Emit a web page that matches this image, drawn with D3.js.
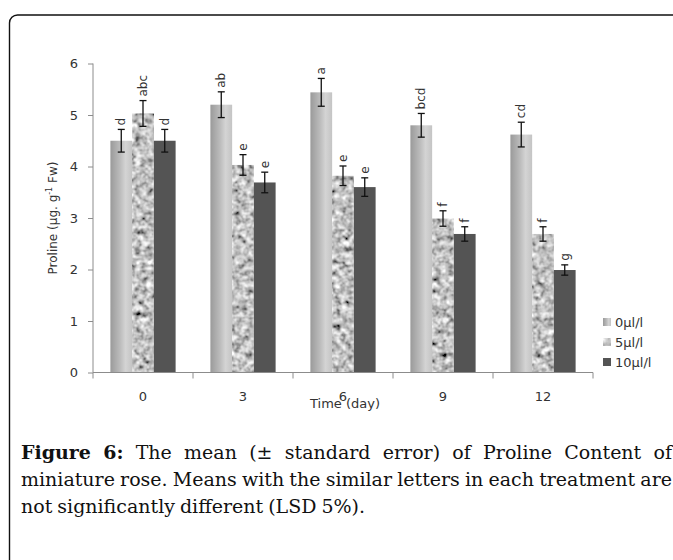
<!DOCTYPE html>
<meta charset="utf-8">
<style>
  body { margin: 0; background: #fff; }
  .tick text { font-family: "DejaVu Sans", Verdana, sans-serif; font-size: 13px; fill: #333; }
  .axis path, .axis line { stroke: #8c8c8c; }
  .cap { font-family: "DejaVu Serif", serif; font-size: 19px; fill: #111; }
</style>
<body>
<script src="https://d3js.org/d3.v7.min.js"></script>
<script>
  // data
  var days = ["0", "3", "6", "9", "12"];
  var series = ["0µl/l", "5µl/l", "10µl/l"];
  var mean0 = [4.50, 5.20, 5.44, 4.80, 4.62];
  var mean5 = [5.03, 4.03, 3.82, 2.99, 2.69];
  var mean10 = [4.50, 3.69, 3.60, 2.69, 1.99];
  var se0 = [0.22, 0.25, 0.27, 0.23, 0.24];
  var se5 = [0.25, 0.20, 0.19, 0.15, 0.14];
  var se10 = [0.22, 0.20, 0.18, 0.14, 0.10];
  var let0 = ["d", "ab", "a", "bcd", "cd"];
  var let5 = ["abc", "e", "e", "f", "f"];
  var let10 = ["d", "e", "e", "f", "g"];
  var yTicks = [0, 1, 2, 3, 4, 5, 6];

  var means = [mean0, mean5, mean10], ses = [se0, se5, se10], lets = [let0, let5, let10];
  var rows = [];
  days.forEach(function (d, i) {
    series.forEach(function (s, j) {
      rows.push({ day: d, s: s, j: j, v: means[j][i], se: ses[j][i], l: lets[j][i] });
    });
  });

  var W = 673, H = 560;
  var svg = d3.select("body").append("svg").attr("width", W).attr("height", H);

  var defs = svg.append("defs");
  // gradient for 0 µl/l bars
  var g = defs.append("linearGradient").attr("id", "grad0").attr("x1", "0").attr("x2", "1").attr("y1", "0").attr("y2", "0");
  g.append("stop").attr("offset", "0").attr("stop-color", "#9a9a9a");
  g.append("stop").attr("offset", "0.45").attr("stop-color", "#bcbcbc");
  g.append("stop").attr("offset", "0.7").attr("stop-color", "#d4d4d4");
  g.append("stop").attr("offset", "1").attr("stop-color", "#c4c4c4");

  // granite texture for 5 µl/l bars
  var f = defs.append("filter").attr("id", "granite").attr("x", "0").attr("y", "0").attr("width", "1").attr("height", "1");
  f.append("feTurbulence").attr("type", "fractalNoise").attr("baseFrequency", "0.17").attr("numOctaves", 2).attr("seed", 4).attr("result", "n");
  f.append("feColorMatrix").attr("in", "n").attr("type", "matrix")
    .attr("values", "0.33 0.33 0.33 0 0  0.33 0.33 0.33 0 0  0.33 0.33 0.33 0 0  0 0 0 0 1").attr("result", "gr");
  var ct = f.append("feComponentTransfer").attr("in", "gr").attr("result", "c");
  ["feFuncR", "feFuncG", "feFuncB"].forEach(function (fn) {
    ct.append(fn).attr("type", "linear").attr("slope", 2.3).attr("intercept", -0.6);
  });
  f.append("feComposite").attr("in", "c").attr("in2", "SourceGraphic").attr("operator", "in");

  var fills = ["url(#grad0)", "#aaaaaa", "#545454"];

  // frame
  svg.append("rect").attr("x", 9.5).attr("y", 15).attr("width", 700).attr("height", 600)
    .attr("rx", 8).attr("fill", "none").attr("stroke", "#111").attr("stroke-width", 1.4);

  var x0 = d3.scaleBand().domain(days).range([93, 593]).padding(0);
  var x1 = d3.scaleBand().domain(series).range([0, x0.bandwidth()]).paddingInner(0).paddingOuter(0.8);
  var y = d3.scaleLinear().domain([0, 6]).range([372.5, 63.5]);

  // y axis
  var ya = svg.append("g").attr("class", "axis").attr("transform", "translate(93,0)")
    .call(d3.axisLeft(y).tickValues(yTicks).tickFormat(d3.format("d")).tickSize(5).tickPadding(10));
  ya.select(".domain").attr("d", "M0," + y(6) + "V" + y(0));

  // bars
  svg.selectAll(".bar").data(rows).enter().append("rect")
    .attr("x", function (d) { return x0(d.day) + x1(d.s); })
    .attr("y", function (d) { return y(d.v); })
    .attr("width", x1.bandwidth())
    .attr("height", function (d) { return y(0) - y(d.v); })
    .attr("fill", function (d) { return fills[d.j]; })
    .attr("filter", function (d) { return d.j == 1 ? "url(#granite)" : null; });

  // x axis
  var xa = svg.append("g").attr("class", "axis").attr("transform", "translate(0," + y(0) + ")");
  xa.append("line").attr("x1", 93).attr("x2", 593).attr("stroke", "#8c8c8c");
  var bounds = days.map(function (d) { return x0(d); }).concat([593]);
  xa.selectAll(".xt").data(bounds).enter().append("line")
    .attr("x1", function (d) { return d; }).attr("x2", function (d) { return d; })
    .attr("y1", 0).attr("y2", 6).attr("stroke", "#8c8c8c");
  xa.selectAll(".xl").data(days).enter().append("text")
    .attr("x", function (d) { return x0(d) + x0.bandwidth() / 2; })
    .attr("y", 28).attr("text-anchor", "middle")
    .style("font-family", "DejaVu Sans, sans-serif").style("font-size", "13px").attr("fill", "#333")
    .text(function (d) { return d; });

  // error bars
  var eb = svg.selectAll(".eb").data(rows).enter().append("g")
    .attr("stroke", "#111").attr("stroke-width", 1.3);
  function cx(d) { return x0(d.day) + x1(d.s) + x1.bandwidth() / 2; }
  eb.append("line").attr("x1", cx).attr("x2", cx)
    .attr("y1", function (d) { return y(d.v + d.se); }).attr("y2", function (d) { return y(d.v - d.se); });
  eb.append("line").attr("x1", function (d) { return cx(d) - 3.5; }).attr("x2", function (d) { return cx(d) + 3.5; })
    .attr("y1", function (d) { return y(d.v + d.se); }).attr("y2", function (d) { return y(d.v + d.se); });
  eb.append("line").attr("x1", function (d) { return cx(d) - 3.5; }).attr("x2", function (d) { return cx(d) + 3.5; })
    .attr("y1", function (d) { return y(d.v - d.se); }).attr("y2", function (d) { return y(d.v - d.se); });

  // significance letters
  svg.selectAll(".lt").data(rows).enter().append("text")
    .attr("transform", function (d) { return "translate(" + (cx(d) + 4) + "," + (y(d.v + d.se) - 4) + ") rotate(-90)"; })
    .style("font-family", "DejaVu Sans, sans-serif").style("font-size", "12px").attr("fill", "#333")
    .text(function (d) { return d.l; });

  // axis titles
  var yl = svg.append("text").attr("transform", "translate(57,218) rotate(-90)").attr("text-anchor", "middle")
    .style("font-family", "DejaVu Sans, sans-serif").style("font-size", "12px").attr("fill", "#333");
  yl.append("tspan").text("Proline (µg. g");
  yl.append("tspan").attr("dy", -5).style("font-size", "8px").text("-1");
  yl.append("tspan").attr("dy", 5).text(" Fw)");
  svg.append("text").attr("x", 345).attr("y", 408).attr("text-anchor", "middle")
    .style("font-family", "DejaVu Sans, sans-serif").style("font-size", "13px").attr("fill", "#333")
    .text("Time (day)");

  // legend
  var lg = svg.selectAll(".lg").data(series).enter().append("g")
    .attr("transform", function (d, i) { return "translate(603," + (318 + i * 20) + ")"; });
  lg.append("rect").attr("width", 8).attr("height", 8)
    .attr("fill", function (d, i) { return fills[i]; })
    .attr("filter", function (d, i) { return i == 1 ? "url(#granite)" : null; });
  lg.append("text").attr("x", 12).attr("y", 9)
    .style("font-family", "DejaVu Sans, sans-serif").style("font-size", "13px").attr("fill", "#333")
    .text(function (d) { return d; });

  // caption, justified lines
  var capLines = [
    { words: ["Figure", "6:", "The", "mean", "(±", "standard", "error)", "of", "Proline", "Content", "of"], bold: 2, just: true, y: 459 },
    { words: ["miniature", "rose.", "Means", "with", "the", "similar", "letters", "in", "each", "treatment", "are"], bold: 0, just: true, y: 486 },
    { words: ["not", "significantly", "different", "(LSD", "5%)."], bold: 0, just: false, y: 513 }
  ];
  var L = 21, R = 672;
  capLines.forEach(function (ln) {
    var ts = ln.words.map(function (w, i) {
      return svg.append("text").attr("class", "cap").attr("y", ln.y)
        .style("font-weight", i < ln.bold ? "bold" : "normal").text(w);
    });
    var widths = ts.map(function (t) { return t.node().getComputedTextLength(); });
    var tot = d3.sum(widths);
    var gap = ln.just ? (R - L - tot) / (ts.length - 1) : 5;
    var xx = L;
    ts.forEach(function (t, i) { t.attr("x", xx); xx += widths[i] + gap; });
  });
</script>
</body>
